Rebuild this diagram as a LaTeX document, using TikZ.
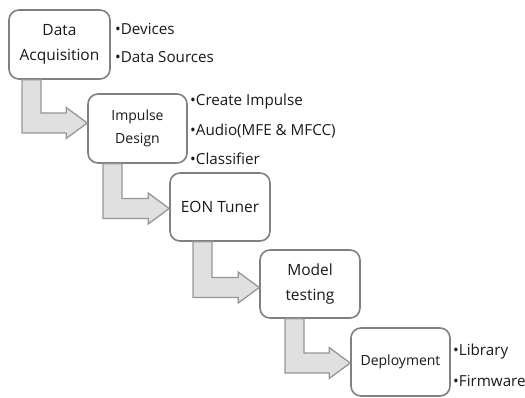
\documentclass[tikz,border=0pt]{standalone}
\usepackage{fontspec}
\setmainfont{Open Sans}
\usetikzlibrary{calc}
\definecolor{boxline}{RGB}{128,128,128}
\definecolor{arrline}{RGB}{150,150,150}
\definecolor{arrfill}{RGB}{224,224,224}
\tikzset{
  stage/.style={draw=boxline, line width=1.6pt, rounded corners=10pt, fill=white,
    inner sep=0pt, align=center, text=black!90,
    font=\fontsize{15.5}{24.5}\selectfont},
  smallstage/.style={stage, font=\fontsize{14}{23.5}\selectfont},
  bullet/.style={anchor=west, inner sep=0pt, text=black!90,
    font=\fontsize{15.2}{18}\selectfont},
  flowarrow/.style={draw=arrline, fill=arrfill, line width=1.3pt, line join=miter}
}
% #1 from node, #2 to node, #3 stem left x, #4 shaft centre y
\newcommand\bendarrow[4]{%
  \draw[flowarrow] let \p1=(#1.south), \p2=(#2.west) in
    (#3,\y1) -- (#3,#4-10) -- ($(\x2,#4-10)+(-21,0)$) -- ($(\x2,#4-15.5)+(-21,0)$)
    -- (\x2,#4) -- ($(\x2,#4+15.5)+(-21,0)$) -- ($(\x2,#4+10)+(-21,0)$)
    -- (#3+19,#4+10) -- (#3+19,\y1) -- cycle;
}
\begin{document}
\begin{tikzpicture}[x=1pt,y=1pt]
\useasboundingbox (0,0) rectangle (525,397);

\node[stage, minimum width=101pt, minimum height=69pt] (acq) at (59.5,352.5) {Data\\Acquisition};
\node[smallstage, minimum width=99pt, minimum height=69pt] (imp) at (137.5,268.5) {Impulse\\Design};
\node[stage, minimum width=100pt, minimum height=68pt] (eon) at (220,190) {EON Tuner};
\node[stage, minimum width=100pt, minimum height=68pt] (mod) at (310,113) {Model\\testing};
\node[smallstage, minimum width=99pt, minimum height=68pt] (dep) at (400.5,35) {Deployment};

\bendarrow{acq}{imp}{22}{274}
\bendarrow{imp}{eon}{103}{188.5}
\bendarrow{eon}{mod}{193}{109.5}
\bendarrow{mod}{dep}{285}{34}

\node[bullet] (b1) at (115,368) {•Devices};
\node[bullet] (b2) at (115,340) {•Data Sources};
\node[bullet] (b3) at (190,295) {•Create Impulse};
\node[bullet] (b4) at (190,266) {•Audio(MFE \& MFCC)};
\node[bullet] (b5) at (190,238) {•Classifier};
\node[bullet] (b6) at (453,45) {•Library};
\node[bullet] (b7) at (453,16) {•Firmware};
\end{tikzpicture}
\end{document}
